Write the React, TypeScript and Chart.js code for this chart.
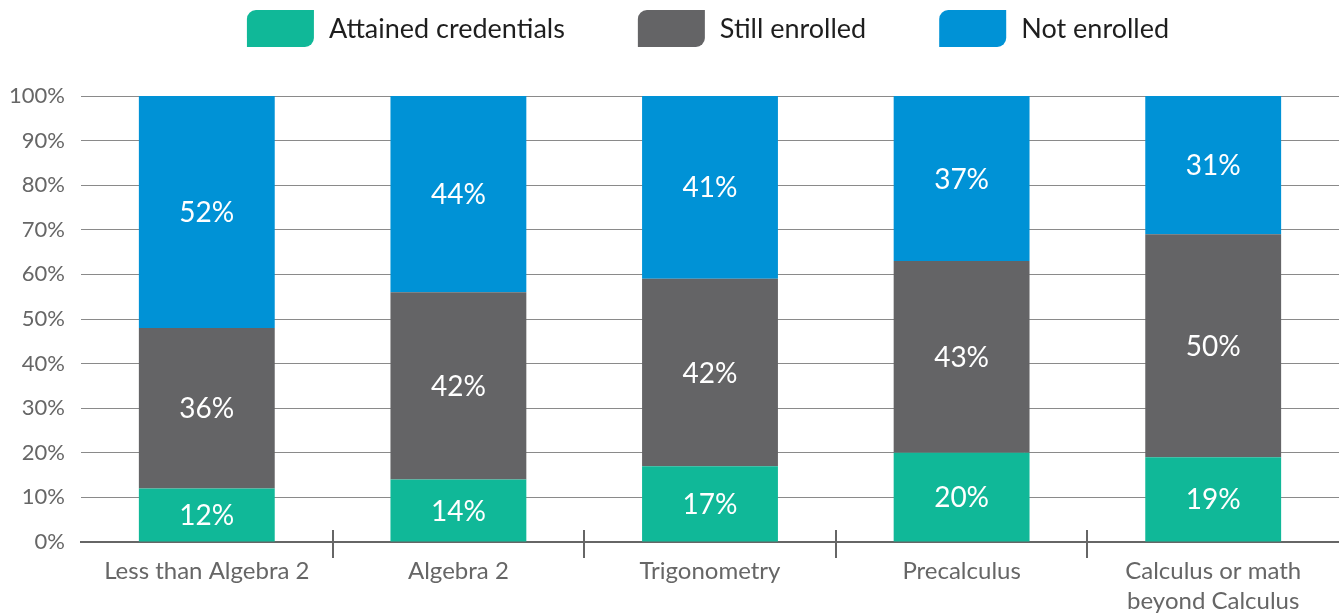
import React, { useEffect, useRef } from 'react';
import { Chart, registerables } from 'chart.js';

Chart.register(...registerables);

const categories: (string | string[])[] = [
  'Less than Algebra 2',
  'Algebra 2',
  'Trigonometry',
  'Precalculus',
  ['Calculus or math', 'beyond Calculus'],
];
const seriesNames = ['Attained credentials', 'Still enrolled', 'Not enrolled'];
const attained = [12, 14, 17, 20, 19];
const stillEnrolled = [36, 42, 42, 43, 50];
const notEnrolled = [52, 44, 41, 37, 31];
const yMin = 0;
const yMax = 100;
const yStep = 10;
const seriesColors = ['#10b898', '#646466', '#0092d6'];

const FONT = 'Lato, "Open Sans", sans-serif';

const dataLabelPlugin = {
  id: 'dataLabels',
  afterDatasetsDraw(chart: any) {
    const ctx = chart.ctx;
    ctx.save();
    ctx.fillStyle = '#ffffff';
    ctx.font = `28px ${FONT}`;
    ctx.textAlign = 'center';
    ctx.textBaseline = 'middle';
    chart.data.datasets.forEach((ds: any, di: number) => {
      const meta = chart.getDatasetMeta(di);
      meta.data.forEach((el: any, i: number) => {
        const p = el.getProps(['x', 'y', 'base'], true);
        ctx.fillText(ds.data[i] + '%', p.x, (p.y + p.base) / 2 + 1);
      });
    });
    ctx.restore();
  },
};

const catTicksPlugin = {
  id: 'catTicks',
  afterDraw(chart: any) {
    const ctx = chart.ctx;
    const xs = chart.scales.x;
    const bottom = chart.chartArea.bottom;
    ctx.save();
    ctx.strokeStyle = '#666666';
    ctx.lineWidth = 2;
    for (let i = 0; i < categories.length - 1; i++) {
      const x = Math.round((xs.getPixelForValue(i) + xs.getPixelForValue(i + 1)) / 2);
      ctx.beginPath();
      ctx.moveTo(x, bottom - 12);
      ctx.lineTo(x, bottom + 16);
      ctx.stroke();
    }
    ctx.restore();
  },
};

const legendPlugin = {
  id: 'customLegend',
  afterDraw(chart: any) {
    const ctx = chart.ctx;
    const boxW = 67;
    const boxH = 37;
    const gapText = 15;
    const gapItem = 73;
    ctx.save();
    ctx.font = `27px ${FONT}`;
    const widths = seriesNames.map((n) => boxW + gapText + ctx.measureText(n).width);
    const total = widths.reduce((a, b) => a + b, 0) + gapItem * (seriesNames.length - 1);
    let x = 708 - total / 2;
    const top = 10;
    seriesNames.forEach((n, i) => {
      ctx.fillStyle = seriesColors[i];
      ctx.beginPath();
      (ctx as any).roundRect(x, top, boxW, boxH, [9, 0, 9, 0]);
      ctx.fill();
      ctx.fillStyle = '#1e1e1e';
      ctx.textAlign = 'left';
      ctx.textBaseline = 'middle';
      ctx.fillText(n, x + boxW + gapText, top + boxH / 2 + 1);
      x += widths[i] + gapItem;
    });
    ctx.restore();
  },
};

export default function App() {
  const ref = useRef<HTMLCanvasElement>(null);
  useEffect(() => {
    if (!ref.current) return;
    const chart = new Chart(ref.current, {
      type: 'bar',
      data: {
        labels: categories,
        datasets: [attained, stillEnrolled, notEnrolled].map((d, i) => ({
          label: seriesNames[i],
          data: d,
          backgroundColor: seriesColors[i],
          borderWidth: 0,
          categoryPercentage: 1,
          barPercentage: 0.54,
        })),
      },
      options: {
        animation: false,
        responsive: true,
        maintainAspectRatio: false,
        layout: { padding: { top: 96, left: 0, right: 0, bottom: 0 } },
        plugins: { legend: { display: false }, tooltip: { enabled: false } },
        scales: {
          x: {
            stacked: true,
            grid: { display: false, drawTicks: false },
            border: { display: true, color: '#666666', width: 2 },
            ticks: {
              color: '#666666',
              font: { family: FONT, size: 24, lineHeight: 1.25 },
              padding: 14,
              maxRotation: 0,
              autoSkip: false,
            },
            afterFit: (s: any) => {
              s.height = 73;
            },
          },
          y: {
            stacked: true,
            min: yMin,
            max: yMax,
            grid: { color: '#8a8a8a', lineWidth: 1, drawTicks: false },
            border: { display: false },
            ticks: {
              stepSize: yStep,
              color: '#666666',
              font: { family: FONT, size: 22 },
              padding: 16,
              callback: (v: any) => v + '%',
            },
            afterFit: (s: any) => {
              s.width = 81;
            },
          },
        },
      },
      plugins: [dataLabelPlugin, catTicksPlugin, legendPlugin],
    });
    return () => chart.destroy();
  }, []);
  return (
    <div style={{ position: 'fixed', left: 0, top: 0, width: 1339, height: 615, background: '#fff' }}>
      <canvas ref={ref} />
    </div>
  );
}
